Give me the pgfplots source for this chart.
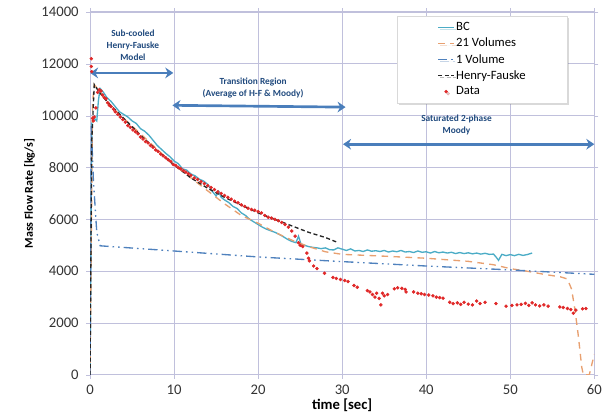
\documentclass[border=0pt]{standalone}
\usepackage{pgfplots}
\pgfplotsset{compat=1.18}
\usepackage{fontspec}
\setmainfont{Carlito}
\usetikzlibrary{arrows.meta,shadows}
\definecolor{bcc}{HTML}{4BACC6}
\definecolor{volc}{HTML}{E8A070}
\definecolor{onec}{HTML}{4F81BD}
\definecolor{datac}{HTML}{E02828}
\definecolor{gridc}{HTML}{C0C0DC}
\definecolor{arrc}{HTML}{4A7EBB}
\definecolor{txtc}{HTML}{1F497D}
\pgfplotsset{
  mylegline/.style={legend image code/.code={\draw[##1] (0pt,0pt) -- (12pt,0pt);}},
  mylegmark/.style={legend image code/.code={\fill[datac] (6pt,0pt) circle (1.1pt);}},
}
\begin{document}
\begin{tikzpicture}
\begin{axis}[
  name=main,
  scale only axis, width=378pt, height=272pt,
  xmin=0, xmax=60, ymin=0, ymax=14000,
  xtick distance=10, ytick distance=2000,
  scaled y ticks=false,
  /pgf/number format/set thousands separator={},
  /pgf/number format/assume math mode=true,
  grid=major, major grid style={gridc, line width=0.6pt},
  axis line style={gridc, line width=0.8pt},
  tick style={gridc},
  tick align=outside, major tick length=3pt,
  ticklabel style={font=\fontsize{11}{13}\selectfont, text=black!80},
  yticklabel style={xshift=-2pt},
  xticklabel style={yshift=-1pt},
  xlabel={\textbf{time [sec]}}, ylabel={\textbf{Mass Flow Rate [kg/s]}},
  xlabel style={font=\fontsize{11}{13}\selectfont, yshift=4pt},
  ylabel style={font=\fontsize{9}{11}\selectfont, yshift=-2pt},
  legend style={at={(rel axis cs:0.609,0.99)}, anchor=north west,
    font=\fontsize{9.5}{11}\selectfont, draw=gray!30, fill=white,
    drop shadow={shadow xshift=1.5pt, shadow yshift=-1.5pt, opacity=0.3},
    row sep=0pt, inner ysep=3pt, inner xsep=30pt,
    nodes={inner xsep=1pt}},
  legend cell align=left,
]
\addplot[bcc, line width=1pt, mylegline] coordinates {
(0,0) (0.2,9700) (0.5,9900) (0.8,9800) (1.0,10600) (1.2,11050) (1.6,10900) (2.0,10700) (2.5,10550) (3.0,10350) (3.5,10150) (4.0,10050) (4.5,9950) (5.0,9800) (5.5,9700) (6.0,9500) (6.5,9400) (7.0,9250) (7.5,9050) (8.0,8850) (8.5,8700) (9.0,8550) (9.5,8420) (10.0,8250) (10.5,8150) (11.0,7950) (11.5,7900) (12.0,7750) (12.5,7680) (13.0,7550) (13.5,7480) (14.0,7350) (14.5,7100) (15.0,6900) (15.3,7080) (15.6,6850) (16.0,6750) (16.5,6650) (17.0,6500) (17.5,6420) (18.0,6250) (18.5,6150) (19.0,6000) (19.5,5900) (20.0,5800) (20.5,5700) (21.0,5620) (21.5,5560) (22.0,5500) (22.5,5420) (23.0,5330) (23.5,5230) (24.0,5150) (24.5,5100) (24.8,5350) (25.1,5050) (25.5,5000) (26.0,4950) (26.5,4920) (27.0,4900) (27.5,4870) (28.0,4900) (28.5,4830) (29.0,4820) (29.5,4900) (30.0,4850) (30.5,4800) (31.0,4860) (31.5,4780) (32.0,4800) (32.5,4760) (33.0,4820) (33.5,4770) (34.0,4790) (34.5,4760) (35.0,4800) (35.5,4740) (36.0,4780) (36.5,4750) (37.0,4800) (37.5,4740) (38.0,4760) (38.5,4720) (39.0,4780) (39.5,4730) (40.0,4750) (40.5,4700) (41.0,4760) (41.5,4710) (42.0,4740) (42.5,4700) (43.0,4730) (43.5,4680) (44.0,4720) (44.5,4680) (45.0,4710) (45.5,4670) (46.0,4700) (46.5,4660) (47.0,4690) (47.5,4650) (48.0,4660) (48.3,4550) (48.6,4420) (49.0,4650) (49.5,4600) (50.0,4640) (50.5,4600) (51.0,4650) (51.5,4610) (52.0,4640) (52.6,4700)
};
\addlegendentry{BC}
\addplot[volc, line width=1pt, dash pattern=on 5pt off 4pt, mylegline] coordinates {
(0,0) (0.3,10500) (0.5,11200) (1.0,11000) (2,10500) (4,9900) (6,9300) (8,8700) (10,8100) (12,7600) (14,7100) (16,6600) (18,6150) (20,5850) (22,5500) (24,5200) (26,4950) (28,4750) (30,4650) (35,4580) (40,4500) (45,4380) (48,4250) (50,4100) (52,4000) (54,3880) (56,3780) (56.8,3700) (57.3,3300) (57.7,2500) (58.1,1500) (58.5,300) (58.7,0) (59.4,0) (60,800)
};
\addlegendentry{21 Volumes}
\addplot[onec, line width=1pt, dash pattern=on 7pt off 3pt on 1.2pt off 3pt on 1.2pt off 3pt, mylegline] coordinates {
(0,0) (0.15,9600) (0.4,7500) (0.8,5500) (1.2,4980) (10,4780) (20,4550) (30,4370) (40,4200) (50,4050) (60,3880)
};
\addlegendentry{1 Volume}
\addplot[black!85, line width=1pt, dash pattern=on 3pt off 2pt, mylegline] coordinates {
(0,0) (0.2,9000) (0.5,11200) (1,10950) (2,10550) (4,9900) (6,9250) (8,8650) (10,8100) (12,7600) (14,7200) (16,6850) (18,6550) (20,6250) (22,6000) (24,5750) (26,5500) (28,5300) (29.3,5130)
};
\addlegendentry{Henry-Fauske}
\addplot[only marks, mark=*, mark size=1.1pt, datac, mark options={draw=datac, fill=datac}, mylegmark] coordinates {
(0.15,12200) (0.15,11900) (0.2,11700) (0.3,9900) (0.4,9800) (0.5,9950) (0.7,10300) (0.9,10900) (1.1,11000) (1.3,10950) (1.5,10800) (1.7,10700) (1.9,10650) (2.1,10500) (2.3,10400) (2.5,10350) (2.8,10250) (3.0,10150) (3.3,10050) (3.6,9950) (3.9,9850) (4.2,9750) (4.5,9620) (4.8,9550) (5.1,9450) (5.4,9380) (5.7,9300) (6.0,9180) (6.3,9100) (6.6,9000) (6.9,8950) (7.2,8850) (7.5,8780) (7.8,8680) (8.1,8620) (8.4,8520) (8.7,8450) (9.0,8380) (9.3,8300) (9.6,8230) (9.9,8120) (10.2,8080) (10.5,8000) (10.8,7950) (11.1,7880) (11.4,7820) (11.7,7760) (12.0,7700) (12.4,7600) (12.8,7540) (13.2,7450) (13.6,7380) (14.0,7300) (14.4,7230) (14.8,7150) (15.2,7060) (15.6,7000) (16.0,6920) (16.4,6850) (16.8,6780) (17.2,6700) (17.6,6640) (18.0,6560) (18.4,6500) (18.8,6430) (19.2,6380) (19.6,6350) (20.0,6300) (20.4,6250) (20.8,6150) (21.2,6080) (21.6,6050) (22.0,6000) (22.4,5950) (22.8,5880) (23.2,5800) (23.6,5700) (24.0,5550) (24.4,5350) (24.8,5100) (25.0,5000) (25.3,4950) (25.8,4700) (26.0,4500) (26.1,4400) (26.6,4200) (27.0,4100) (27.9,3920) (28.9,3760) (29.3,3720) (29.8,3680) (30.3,3640) (30.7,3600) (31.4,3450) (31.8,3380) (33.0,3250) (33.3,3200) (33.6,3100) (33.9,3000) (34.1,3150) (34.4,2950) (34.6,2700) (34.8,3150) (35.0,3050) (35.4,3100) (36.2,3320) (36.6,3360) (37.1,3340) (37.5,3300) (37.6,3200) (38.5,3200) (39.0,3150) (39.4,3130) (39.8,3100) (40.3,3080) (40.8,3050) (41.2,3000) (41.6,2980) (42.0,2960) (42.8,2800) (43.2,2750) (43.7,2780) (44.1,2720) (44.5,2800) (45.0,2730) (45.5,2700) (46.0,2850) (46.4,2750) (47.0,2800) (48.3,2750) (49.5,2650) (50.2,2680) (50.8,2700) (51.3,2720) (51.8,2760) (52.2,2680) (52.6,2780) (53.0,2700) (53.5,2660) (54.0,2700) (54.5,2650) (55.9,2620) (56.3,2600) (56.8,2560) (57.2,2520) (57.5,2380) (57.8,2500) (58.6,2550) (59.0,2560)
};
\addlegendentry{Data}
% annotations
\draw[arrc, line width=2pt, {Stealth[length=6pt,width=8pt]}-{Stealth[length=6pt,width=8pt]}] (axis cs:0,11650) -- (axis cs:9.9,11650);
\draw[arrc, line width=2pt, {Stealth[length=6pt,width=8pt]}-{Stealth[length=6pt,width=8pt]}] (axis cs:9.8,10400) -- (axis cs:30.4,10330);
\draw[arrc, line width=2pt, {Stealth[length=6pt,width=8pt]}-{Stealth[length=6pt,width=8pt]}] (axis cs:30.1,8900) -- (axis cs:60,8900);
\node[txtc, align=center, font=\fontsize{7}{9}\selectfont\bfseries] at (axis cs:5.1,12730) {Sub-cooled\\Henry-Fauske\\Model};
\node[txtc, align=center, font=\fontsize{7}{9}\selectfont\bfseries] at (axis cs:19.4,11070) {Transition Region\\(Average of H-F \& Moody)};
\node[txtc, align=center, font=\fontsize{7}{9}\selectfont\bfseries] at (axis cs:43.6,9640) {Saturated 2-phase\\Moody};
\end{axis}
\path (main.south west) ++(-67.5pt,-33pt) coordinate (bbA);
\path (main.north east) ++(11pt,9pt) coordinate (bbB);
\path (bbA) rectangle (bbB);
\end{tikzpicture}
\end{document}
